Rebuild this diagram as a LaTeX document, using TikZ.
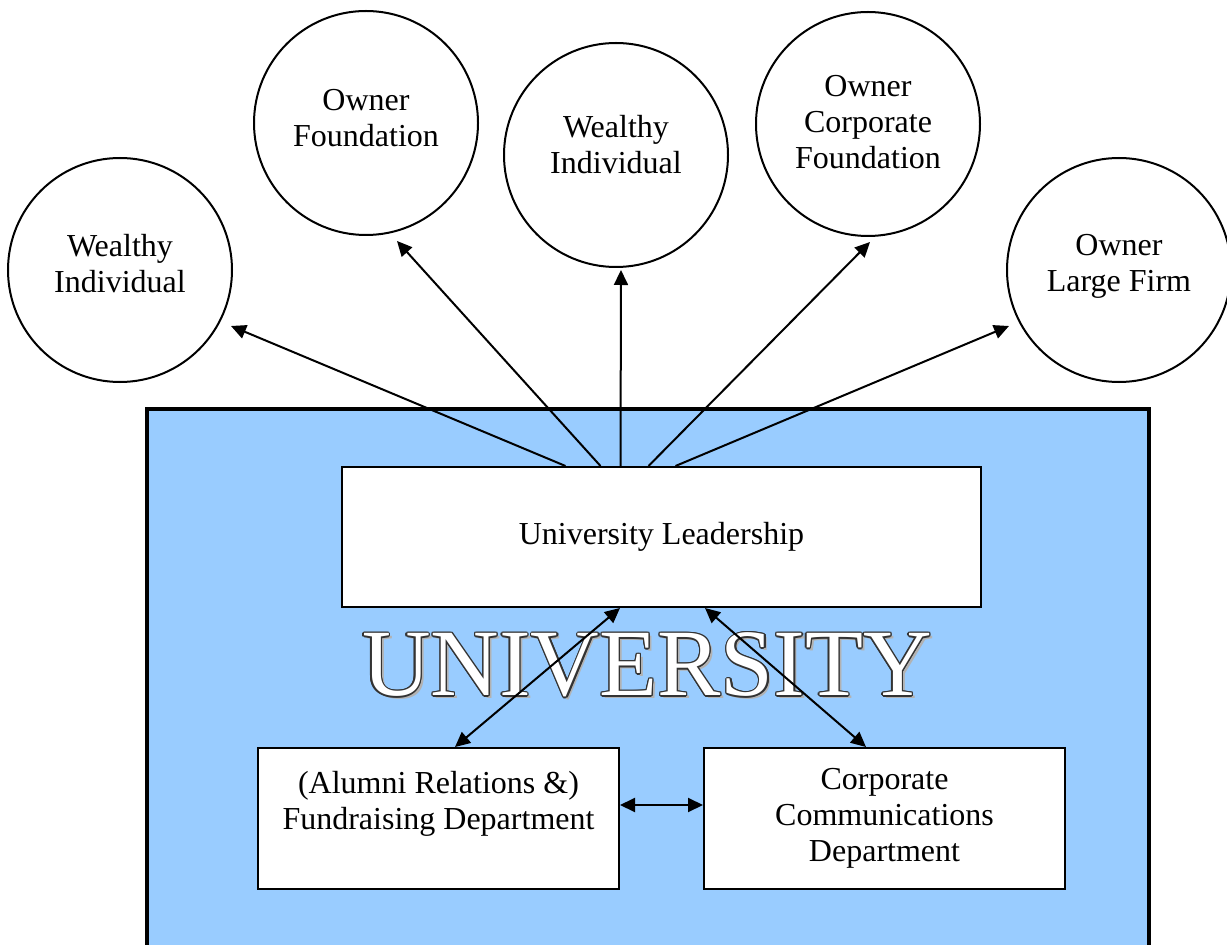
\documentclass[tikz,border=0pt]{standalone}
\usepackage{fontspec}
\setmainfont{Liberation Serif}
\usetikzlibrary{arrows.meta}

\definecolor{uniblue}{RGB}{153,204,255}

\begin{document}
\begin{tikzpicture}[x=0.4pt, y=-0.4pt, >={Triangle[length=6pt, width=5.6pt]},
  every node/.style={font=\fontsize{12.8pt}{14.4pt}\selectfont, align=center},
  donor/.style={circle, draw, line width=0.8pt, fill=white, minimum size=89.6pt, inner sep=0pt},
  unit/.style={rectangle, draw, line width=0.8pt, fill=white, inner sep=0pt},
  link/.style={line width=0.8pt}]

\useasboundingbox (0,0) rectangle (1227,945);

% university frame
\draw [line width=1.6pt, fill=uniblue] (146.5,409.5) rectangle (1149,947);

% donors
\node [donor] (wealthy-1) at (120,270) {};
\node [donor] (owner-found) at (366,123) {};
\node [donor] (wealthy-2) at (616,155) {};
\node [donor] (owner-corp) at (868,124) {};
\node [donor] (owner-firm) at (1119,270) {};

\node at ([yshift=2.4pt]wealthy-1) {Wealthy\\Individual};
\node at ([yshift=2pt]owner-found) {Owner\\Foundation};
\node at ([yshift=4pt]wealthy-2) {Wealthy\\Individual};
\node at ([yshift=0.8pt]owner-corp) {Owner\\Corporate\\Foundation};
\node at ([yshift=1.6pt]owner-firm) {Owner\\Large Firm};

% university title with outline and shadow
\node (uni-shadow) at (650,668) {\fontsize{38pt}{40pt}\selectfont\color{gray!60}UNIVERSITY};
\foreach \a in {0,30,...,330}
  \node [text=black!80] at ([shift={(\a:0.55pt)}]647,665) {\fontsize{38pt}{40pt}\selectfont UNIVERSITY};
\node (uni) at (647,665) {\fontsize{38pt}{40pt}\selectfont\color{white}UNIVERSITY};

% units
\node [unit, minimum width=255.6pt, minimum height=56pt] (lead) at (661.5,537) {University Leadership};
\node [unit, minimum width=144.4pt, minimum height=56.4pt] (fund) at (438.5,818.5)
  {(Alumni Relations \&)\\Fundraising Department\\\mbox{}};
\node [unit, minimum width=144.4pt, minimum height=56.4pt] (comm) at (884.5,818.5)
  {Corporate\\Communications\\Department};

% leadership to donors
\foreach \s/\d/\t in {-38.4/wealthy-1/{111,56}, -24.4/owner-found/{31,118}, -16.4/wealthy-2/{5,115},
                      -5.2/owner-corp/{2,118}, 5.6/owner-firm/{-110,56}}
  \draw [link, ->] ([xshift=\s pt]lead.north) -- ([shift={(\t)}]\d.center);

% inside the university
\draw [link, <->] ([xshift=-16.6pt]lead.south) -- ([xshift=6.6pt]fund.north);
\draw [link, <->] ([xshift=17.4pt]lead.south) -- ([xshift=-7.4pt]comm.north);
\draw [link, <->] ([yshift=5.4pt]fund.east) -- ([yshift=5.4pt]comm.west);

\end{tikzpicture}
\end{document}
